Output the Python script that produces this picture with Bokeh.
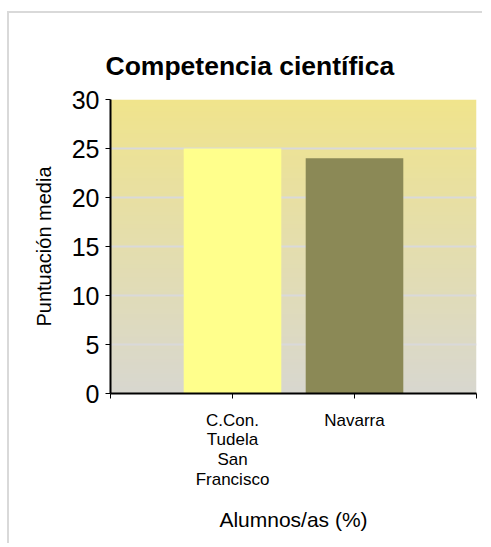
import numpy as np
from bokeh.plotting import figure
from bokeh.models import FixedTicker, Title, Range1d, LinearAxis
from bokeh.embed import file_html
from bokeh.resources import INLINE

# ---- data ----
categories = ["C.Con.\nTudela\nSan\nFrancisco", "Navarra"]
scores = [25, 24]
bar_colors = ["#FFFF8C", "#8B8956"]
y_ticks = [0, 5, 10, 15, 20, 25, 30]
title_text = "Competencia científica"
y_label = "Puntuación media"
x_label = "Alumnos/as (%)"

FONT = "Liberation Sans"

positions = [i + 1 for i in range(len(categories))]
n_slots = len(categories) + 1

p = figure(frame_width=366, frame_height=294, output_backend="svg",
           toolbar_location=None,
           x_range=Range1d(0, n_slots), y_range=Range1d(0, 30),
           min_border_left=101, min_border_right=6, min_border_top=86,
           min_border_bottom=150)
p.styles = {"border-left": "2px solid #D9D9D9", "border-top": "2px solid #D9D9D9",
            "margin-top": "11px", "margin-left": "7px"}
p.outline_line_color = None
p.background_fill_color = "#FFFFFF"

# gradient background of the plot area (style only)
top = np.array([240, 228, 140], dtype=float)
bot = np.array([216, 215, 207], dtype=float)
nrow = 200
t = np.linspace(0, 1, nrow)[:, None]
cols = bot * (1 - t) + top * t
img = np.zeros((nrow, 1), dtype=np.uint32)
view = img.view(dtype=np.uint8).reshape((nrow, 1, 4))
view[:, 0, 0] = cols[:, 0].round()
view[:, 0, 1] = cols[:, 1].round()
view[:, 0, 2] = cols[:, 2].round()
view[:, 0, 3] = 255
bg = p.image_rgba(image=[img], x=0, y=0, dw=n_slots, dh=30)
bg.level = "image"

# bars
p.vbar(x=positions, top=scores, width=0.8, bottom=0, fill_color=bar_colors,
       line_color=None)

# grid
p.xgrid.grid_line_color = None
p.ygrid.ticker = FixedTicker(ticks=y_ticks)
p.ygrid.grid_line_color = "#D9D9D9"
p.ygrid.grid_line_width = 2

# y axis
p.yaxis.ticker = FixedTicker(ticks=y_ticks)
p.yaxis.axis_line_color = "black"
p.yaxis.axis_line_width = 2
p.yaxis.major_tick_line_color = "black"
p.yaxis.major_tick_out = 5
p.yaxis.major_tick_in = 0
p.yaxis.minor_tick_line_color = None
p.yaxis.major_label_text_font = FONT
p.yaxis.major_label_text_font_size = "25px"
p.yaxis.major_label_text_color = "black"
p.yaxis.major_label_standoff = 6
p.yaxis.axis_label = y_label
p.yaxis.axis_label_text_font = FONT
p.yaxis.axis_label_text_font_size = "20px"
p.yaxis.axis_label_text_font_style = "normal"
p.yaxis.axis_label_text_color = "black"
p.yaxis.axis_label_standoff = 14

# x axis
p.xaxis.ticker = FixedTicker(ticks=list(range(n_slots + 1)))
overrides = {i: "" for i in range(n_slots + 1)}
for pos, cat in zip(positions, categories):
    overrides[pos] = cat
p.xaxis.major_label_overrides = overrides
p.xaxis.axis_line_color = "black"
p.xaxis.axis_line_width = 2
p.xaxis.major_tick_line_color = "black"
p.xaxis.major_tick_out = 5
p.xaxis.major_tick_in = 0
p.xaxis.minor_tick_line_color = None
p.xaxis.major_label_text_font = FONT
p.xaxis.major_label_text_font_size = "17px"
p.xaxis.major_label_text_line_height = 1.05
p.xaxis.major_label_text_color = "black"
p.xaxis.major_label_standoff = 12
p.xaxis.axis_label = x_label
p.xaxis.axis_label_text_font = FONT
p.xaxis.axis_label_text_font_size = "21px"
p.xaxis.axis_label_text_font_style = "normal"
p.xaxis.axis_label_text_color = "black"
p.xaxis.axis_label_standoff = 16

# title
p.add_layout(Title(text=title_text, align="left", offset=-5, standoff=34,
                   vertical_align="top",
                   text_font=FONT, text_font_size="26.5px",
                   text_font_style="bold", text_color="black"), "above")

# invisible spacer between plot area and title
spacer = LinearAxis(ticker=FixedTicker(ticks=[]), axis_line_color=None,
                    major_tick_line_color=None, minor_tick_line_color=None,
                    major_tick_out=20, major_tick_in=0, minor_tick_out=0,
                    major_label_standoff=0)
p.add_layout(spacer, "above")

open("out.html", "w").write(file_html(p, INLINE))
